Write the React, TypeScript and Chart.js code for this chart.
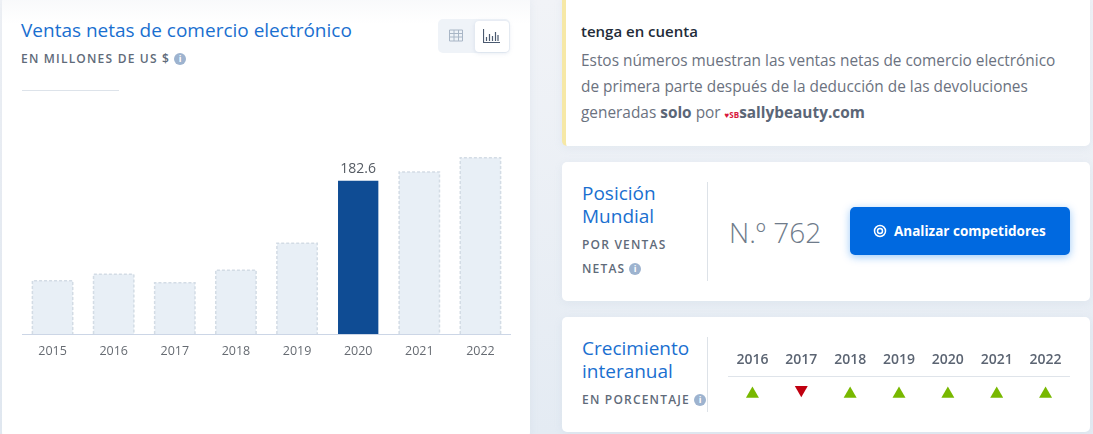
import React, { useEffect, useRef } from 'react';
import Chart from 'chart.js/auto';

const FONT = '"Open Sans", sans-serif';

const years = ['2015', '2016', '2017', '2018', '2019', '2020', '2021', '2022'];
const netSales = [63.5, 71, 61, 76, 108, 182.6, 193, 210];
const highlightYear = '2020';

const growthYears = ['2016', '2017', '2018', '2019', '2020', '2021', '2022'];
const growthDirections = [1, -1, 1, 1, 1, 1, 1];

const GHOST_FILL = '#e8eff6';
const GHOST_DASH = '#d3dce5';
const HIGHLIGHT = '#0f4c94';
const BLUE_TITLE = '#1a6fd0';

// bars have no borderDash option, so the dashed outline goes on top
const ghostOutlinePlugin = {
  id: 'ghostOutline',
  afterDatasetsDraw(chart: any) {
    const { ctx } = chart;
    const bars = chart.getDatasetMeta(0).data;
    ctx.save();
    bars.forEach((bar: any, i: number) => {
      const left = bar.x - bar.width / 2;
      const right = bar.x + bar.width / 2;
      if (years[i] === highlightYear) {
        ctx.fillStyle = '#555b63';
        ctx.font = `14px ${FONT}`;
        ctx.textAlign = 'center';
        ctx.textBaseline = 'bottom';
        ctx.fillText(String(netSales[i]), bar.x, bar.y - 5);
        return;
      }
      ctx.strokeStyle = GHOST_DASH;
      ctx.lineWidth = 1.5;
      ctx.setLineDash([3, 2]);
      ctx.beginPath();
      ctx.moveTo(left, bar.base);
      ctx.lineTo(left, bar.y);
      ctx.lineTo(right, bar.y);
      ctx.lineTo(right, bar.base);
      ctx.stroke();
    });
    ctx.restore();
  },
};

const SalesChart: React.FC = () => {
  const ref = useRef<HTMLCanvasElement>(null);
  useEffect(() => {
    if (!ref.current) return;
    const chart = new Chart(ref.current, {
      type: 'bar',
      data: {
        labels: years,
        datasets: [{
          data: netSales,
          backgroundColor: years.map((y) => (y === highlightYear ? HIGHLIGHT : GHOST_FILL)),
          barPercentage: 0.66,
          categoryPercentage: 1,
        }],
      },
      options: {
        animation: false,
        responsive: true,
        maintainAspectRatio: false,
        plugins: { legend: { display: false }, tooltip: { enabled: false } },
        scales: {
          x: {
            grid: { display: false },
            border: { color: '#ccd6e6' },
            ticks: { color: '#666b72', font: { family: FONT, size: 12.5 }, padding: 2, maxRotation: 0 },
          },
          y: { display: false, min: 0, max: 231 },
        },
      },
      plugins: [ghostOutlinePlugin],
    });
    return () => chart.destroy();
  }, []);
  return <canvas ref={ref} />;
};

const GrowthChart: React.FC = () => {
  const ref = useRef<HTMLCanvasElement>(null);
  useEffect(() => {
    if (!ref.current) return;
    const chart = new Chart(ref.current, {
      type: 'line',
      data: {
        labels: growthYears,
        datasets: [{
          // triangles sit on one row, the small shift lines up the up and down shapes
          data: growthDirections.map((d) => (d > 0 ? -0.17 : 0.11)),
          showLine: false,
          pointStyle: 'triangle',
          pointRadius: 7.5,
          pointBorderWidth: 0,
          pointRotation: growthDirections.map((d) => (d > 0 ? 0 : 180)),
          pointBackgroundColor: growthDirections.map((d) => (d > 0 ? '#78b800' : '#c00010')),
        }],
      },
      options: {
        animation: false,
        responsive: true,
        maintainAspectRatio: false,
        layout: { autoPadding: false },
        plugins: { legend: { display: false }, tooltip: { enabled: false } },
        scales: {
          x: {
            position: 'top',
            offset: true,
            grid: { display: false },
            border: { color: '#dfe4ea' },
            ticks: { color: '#5b6472', font: { family: FONT, size: 14, weight: 600 }, padding: 0, maxRotation: 0 },
          },
          y: { display: false, min: -1, max: 1 },
        },
      },
    });
    return () => chart.destroy();
  }, []);
  return <canvas ref={ref} />;
};

const InfoIcon: React.FC<{ x: number; y: number }> = ({ x, y }) => (
  <span
    style={{
      position: 'absolute', left: x, top: y, width: 12, height: 12, borderRadius: '50%',
      background: '#9db3cf', color: '#fff', fontSize: 9, fontWeight: 700, lineHeight: '12px',
      textAlign: 'center', letterSpacing: 0,
    }}
  >
    i
  </span>
);

const Text: React.FC<{ x: number; y: number; style?: React.CSSProperties; children: React.ReactNode }> = ({ x, y, style, children }) => (
  <div style={{ position: 'absolute', left: x, top: y, whiteSpace: 'nowrap', lineHeight: '24px', ...style }}>{children}</div>
);

const titleStyle: React.CSSProperties = { color: BLUE_TITLE, fontSize: 19 };
const captionStyle: React.CSSProperties = { color: '#5f6b7a', fontSize: 12, fontWeight: 600, letterSpacing: 1.2 };
const bodyStyle: React.CSSProperties = { color: '#6b7280', fontSize: 15.4 };
const cardStyle: React.CSSProperties = {
  position: 'absolute', background: '#fff', borderRadius: 5, boxShadow: '0 2px 8px rgba(150,170,200,0.12)',
};

export default function App() {
  return (
    <div style={{
      position: 'relative', width: 1093, height: 434, overflow: 'hidden', fontFamily: FONT,
      background: 'linear-gradient(#f1f3f7, #e4ebf3)',
    }}>
      <style>{'body{margin:0}'}</style>

      {/* left panel */}
      <div style={{ ...cardStyle, left: 2, top: -6, width: 528, height: 446, borderRadius: 8, background: 'linear-gradient(#f7f8fa, #fff 30px)' }} />
      <Text x={21} y={18} style={titleStyle}>Ventas netas de comercio electrónico</Text>
      <Text x={21} y={47} style={captionStyle}>EN MILLONES DE US $</Text>
      <InfoIcon x={174} y={53} />
      <div style={{ position: 'absolute', left: 22, top: 90, width: 97, height: 1, background: '#dde3ea' }} />

      {/* table / chart toggle */}
      <div style={{ position: 'absolute', left: 438, top: 19, width: 72, height: 34, borderRadius: 5, background: '#eff3f8' }} />
      <div style={{ position: 'absolute', left: 475, top: 21, width: 34, height: 31, borderRadius: 4, background: '#fff', boxShadow: '0 1px 4px rgba(150,170,200,0.3)' }} />
      <svg style={{ position: 'absolute', left: 449, top: 29 }} width={14} height={13} viewBox="0 0 14 13">
        <path d="M0.5 1H13.5V12H0.5ZM0.5 4.5H13.5M0.5 8H13.5M5 1V12M9.5 1V12" fill="none" stroke="#a9b6c6" strokeWidth={1} />
      </svg>
      <svg style={{ position: 'absolute', left: 483, top: 29 }} width={17} height={14} viewBox="0 0 17 14">
        <path d="M0.5 0V13.5H17M3.5 12V8M6.5 12V5M9.5 12V7M12.5 12V3M15 12V6" fill="none" stroke="#4b5a70" strokeWidth={1.2} />
      </svg>

      <div style={{ position: 'absolute', left: 22, top: 140, width: 489, height: 221 }}>
        <SalesChart />
      </div>

      {/* note card */}
      <div style={{ ...cardStyle, left: 562, top: -6, width: 528, height: 152, borderLeft: '4px solid #f6e8a6', boxSizing: 'border-box' }} />
      <Text x={581} y={19} style={{ color: '#222b38', fontSize: 15, fontWeight: 600 }}>tenga en cuenta</Text>
      <Text x={581} y={49} style={bodyStyle}>Estos números muestran las ventas netas de comercio electrónico</Text>
      <Text x={581} y={75} style={bodyStyle}>de primera parte después de la deducción de las devoluciones</Text>
      <Text x={581} y={101} style={bodyStyle}>
        generadas <b style={{ color: '#5b6677' }}>solo</b> por{' '}
        <span style={{ color: '#d8193c', fontSize: 8, fontWeight: 700 }}>♥SB</span>
        <b style={{ color: '#5b6677' }}>sallybeauty.com</b>
      </Text>

      {/* rank card */}
      <div style={{ ...cardStyle, left: 562, top: 162, width: 528, height: 139 }} />
      <Text x={582} y={181} style={titleStyle}>Posición</Text>
      <Text x={582} y={204} style={titleStyle}>Mundial</Text>
      <Text x={582} y={233} style={captionStyle}>POR VENTAS</Text>
      <Text x={582} y={257} style={captionStyle}>NETAS</Text>
      <InfoIcon x={629} y={263} />
      <div style={{ position: 'absolute', left: 707, top: 182, width: 1, height: 99, background: '#dde2e8' }} />
      <Text x={729} y={220} style={{ color: '#6f7b8a', fontSize: 28, fontWeight: 300 }}>N.º 762</Text>
      <div style={{
        position: 'absolute', left: 850, top: 207, width: 220, height: 48, borderRadius: 5, background: '#0069e0',
        boxShadow: '0 2px 8px rgba(0,120,240,0.4)',
      }} />
      <svg style={{ position: 'absolute', left: 873, top: 224 }} width={14} height={14} viewBox="0 0 14 14">
        <circle cx={7} cy={7} r={5.5} fill="none" stroke="#fff" strokeWidth={1.5} />
        <circle cx={7} cy={7} r={2.5} fill="none" stroke="#fff" strokeWidth={1.5} />
      </svg>
      <Text x={894} y={219} style={{ color: '#fff', fontSize: 13.5, fontWeight: 700 }}>Analizar competidores</Text>

      {/* yoy card */}
      <div style={{ ...cardStyle, left: 562, top: 317, width: 528, height: 115 }} />
      <Text x={582} y={336} style={titleStyle}>Crecimiento</Text>
      <Text x={582} y={359} style={titleStyle}>interanual</Text>
      <Text x={582} y={388} style={captionStyle}>EN PORCENTAJE</Text>
      <InfoIcon x={694} y={394} />
      <div style={{ position: 'absolute', left: 707, top: 337, width: 1, height: 75, background: '#dde2e8' }} />
      <div style={{ position: 'absolute', left: 728, top: 352, width: 342, height: 54 }}>
        <GrowthChart />
      </div>
    </div>
  );
}
